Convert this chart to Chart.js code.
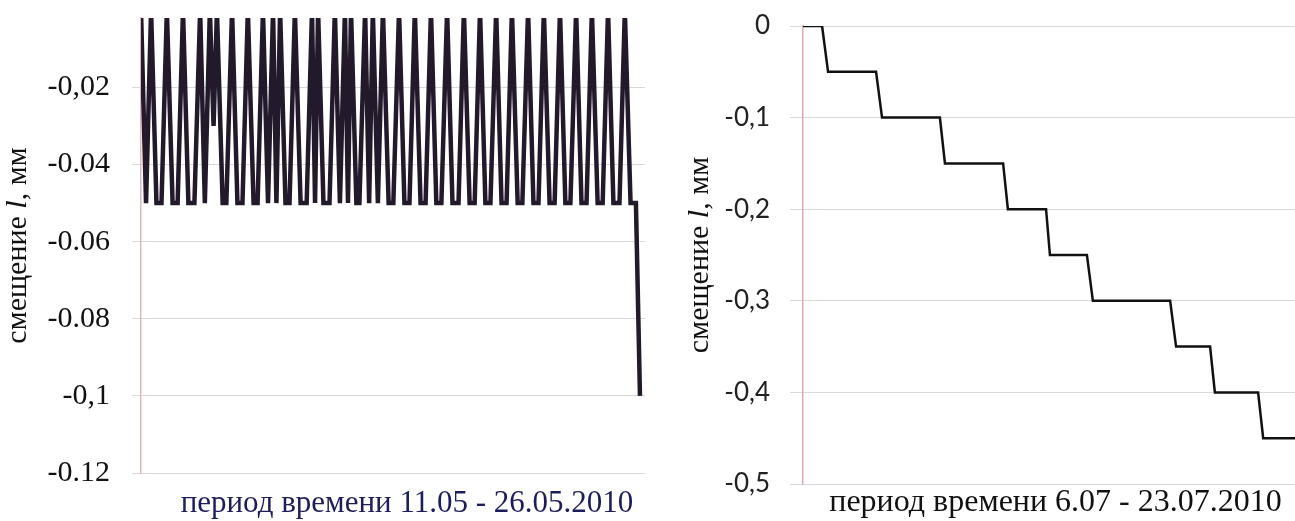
<!DOCTYPE html>
<html>
<head>
<meta charset="utf-8">
<script src="https://cdn.jsdelivr.net/npm/chart.js@4.4.0/dist/chart.umd.min.js"></script>
<style>
html, body { margin: 0; padding: 0; background: #fff; width: 1295px; height: 521px; overflow: hidden; position: relative; }
#left { position: absolute; left: 0; top: 0; }
#right { position: absolute; left: 660px; top: 0; }
</style>
</head>
<body>
<canvas id="left" width="660" height="521"></canvas>
<canvas id="right" width="670" height="521"></canvas>
<script>
// left chart: 11.05 - 26.05.2010, days from start, shift in mm
var leftDays = [
  0.00, 0.15, 0.30, 0.46, 0.61, 0.77, 0.94, 1.09, 1.25, 1.41, 1.59, 1.76,
  1.90, 2.05, 2.16, 2.26, 2.43, 2.54, 2.71, 2.87, 3.02, 3.18, 3.35, 3.47,
  3.63, 3.78, 3.93, 4.03, 4.14, 4.30, 4.42, 4.58, 4.75, 4.93, 5.09, 5.18,
  5.27, 5.43, 5.61, 5.77, 5.92, 6.07, 6.16, 6.25, 6.41, 6.50, 6.67, 6.79,
  6.90, 7.05, 7.20, 7.37, 7.51, 7.68, 7.84, 7.99, 8.15, 8.32, 8.47, 8.63,
  8.79, 8.94, 9.11, 9.27, 9.45, 9.61, 9.78, 9.93, 10.09, 10.25, 10.40, 10.57,
  10.73, 10.88, 11.04, 11.21, 11.35, 11.52, 11.68, 11.83, 11.99, 12.16, 12.31, 12.47,
  12.63, 12.78, 12.95, 13.11, 13.26, 13.42, 13.59, 13.74, 13.90, 14.06, 14.24, 14.40,
  14.57, 14.73, 14.85
];
var leftShift = [
  0, -0.05, 0, -0.05, -0.05, 0, -0.05, -0.05, 0, -0.05, -0.05, 0,
  -0.05, 0, -0.03, 0, -0.05, -0.05, 0, -0.05, -0.05, 0, -0.05, -0.05,
  0, -0.05, 0, -0.05, 0, -0.05, -0.05, 0, -0.05, -0.05, 0, -0.05,
  0, -0.05, -0.05, 0, -0.05, 0, -0.05, 0, -0.05, -0.05, 0, -0.05,
  0, -0.05, 0, -0.05, -0.05, 0, -0.05, -0.05, 0, -0.05, -0.05, 0,
  -0.05, -0.05, 0, -0.05, -0.05, 0, -0.05, -0.05, 0, -0.05, -0.05, 0,
  -0.05, -0.05, 0, -0.05, -0.05, 0, -0.05, -0.05, 0, -0.05, -0.05, 0,
  -0.05, -0.05, 0, -0.05, -0.05, 0, -0.05, -0.05, 0, -0.05, -0.05, 0,
  -0.05, -0.05, -0.1
];
var leftTicks = [-0.12, -0.1, -0.08, -0.06, -0.04, -0.02];
var leftTickLabels = ['-0.12', '-0,1', '-0.08', '-0.06', '-0.04', '-0,02'];
var leftXTitle = 'период времени 11.05 - 26.05.2010';

// right chart: 6.07 - 23.07.2010
var rightDays = [0, 0.64, 0.84, 2.45, 2.65, 4.59, 4.76, 6.71, 6.87, 8.15, 8.28, 9.52, 9.72, 12.31, 12.51, 13.65, 13.81, 15.26, 15.43, 17];
var rightShift = [0, 0, -0.05, -0.05, -0.1, -0.1, -0.15, -0.15, -0.2, -0.2, -0.25, -0.25, -0.3, -0.3, -0.35, -0.35, -0.4, -0.4, -0.45, -0.45];
var rightTicks = [-0.5, -0.4, -0.3, -0.2, -0.1, 0];
var rightTickLabels = ['-0,5', '-0,4', '-0,3', '-0,2', '-0,1', '0'];
var rightXTitle = 'период времени 6.07 - 23.07.2010';

var yTitleParts = [
  { text: 'смещение ', italic: false },
  { text: 'l', italic: true },
  { text: ', мм', italic: false }
];

// axis titles drawn by hand so the "l" can be italic
var axisTitles = {
  id: 'axisTitles',
  afterDraw: function(chart, args, opts) {
    var ctx = chart.ctx, a = chart.chartArea;
    ctx.save();
    ctx.fillStyle = opts.yColor;
    ctx.textBaseline = 'alphabetic';
    ctx.textAlign = 'left';
    var fonts = yTitleParts.map(function(p) {
      return (p.italic ? 'italic ' : '') + opts.ySize + 'px "Liberation Serif"';
    });
    var widths = yTitleParts.map(function(p, i) {
      ctx.font = fonts[i];
      return ctx.measureText(p.text).width;
    });
    var total = widths.reduce(function(s, w) { return s + w; }, 0);
    ctx.translate(opts.yBaseX, (a.top + a.bottom) / 2 + opts.yShift);
    ctx.rotate(-Math.PI / 2);
    var x = -total / 2;
    yTitleParts.forEach(function(p, i) {
      ctx.font = fonts[i];
      ctx.fillText(p.text, x, 0);
      x += widths[i];
    });
    ctx.restore();

    ctx.save();
    ctx.font = opts.xSize + 'px "Liberation Serif"';
    ctx.fillStyle = opts.xColor;
    ctx.textAlign = 'center';
    ctx.textBaseline = 'middle';
    ctx.fillText(opts.xText, (a.left + a.right) / 2 + opts.xShift, opts.xMid);
    ctx.restore();
  }
};

function points(xs, ys) {
  return xs.map(function(x, i) { return { x: x, y: ys[i] }; });
}

// keep the plot edges where the layout padding puts them
function fitY(width) {
  return function(s) {
    s.width = width;
    s.paddingTop = 0;
    s.paddingBottom = 0;
  };
}

new Chart(document.getElementById('left'), {
  type: 'line',
  data: {
    datasets: [{
      data: points(leftDays, leftShift),
      borderColor: '#22192b',
      borderWidth: 4.5,
      pointRadius: 0,
      tension: 0,
      fill: false
    }]
  },
  options: {
    responsive: false,
    animation: false,
    devicePixelRatio: 1,
    layout: { padding: { top: 18, right: 15, bottom: 48, left: 0 } },
    plugins: {
      legend: { display: false },
      tooltip: { enabled: false },
      axisTitles: {
        yColor: '#111', ySize: 30, yBaseX: 26, yShift: 0,
        xText: leftXTitle, xColor: '#1d1d5c', xSize: 31, xMid: 504, xShift: 14
      }
    },
    scales: {
      x: { type: 'linear', min: 0, max: 15, display: false },
      y: {
        min: -0.12,
        max: -0.002,
        afterFit: fitY(141),
        afterBuildTicks: function(s) { s.ticks = leftTicks.map(function(v) { return { value: v }; }); },
        ticks: {
          callback: function(v, i) { return leftTickLabels[i]; },
          font: { family: '"Liberation Serif"', size: 30 },
          color: '#111',
          padding: 22
        },
        grid: { color: '#d9d9d9', lineWidth: 1, tickLength: 9 },
        border: { color: '#e3b6ba', width: 1.5 }
      }
    }
  },
  plugins: [axisTitles]
});

new Chart(document.getElementById('right'), {
  type: 'line',
  data: {
    datasets: [{
      data: points(rightDays, rightShift),
      borderColor: '#111111',
      borderWidth: 2.5,
      pointRadius: 0,
      tension: 0,
      fill: false
    }]
  },
  options: {
    responsive: false,
    animation: false,
    devicePixelRatio: 1,
    layout: { padding: { top: 26, right: 20, bottom: 37, left: 0 } },
    plugins: {
      legend: { display: false },
      tooltip: { enabled: false },
      axisTitles: {
        yColor: '#111', ySize: 30, yBaseX: 48, yShift: 0,
        xText: rightXTitle, xColor: '#111', xSize: 32, xMid: 503, xShift: -1
      }
    },
    scales: {
      x: { type: 'linear', min: 0, max: 17, display: false },
      y: {
        min: -0.5,
        max: 0,
        afterFit: fitY(143),
        afterBuildTicks: function(s) { s.ticks = rightTicks.map(function(v) { return { value: v }; }); },
        ticks: {
          callback: function(v, i) { return rightTickLabels[i]; },
          font: { family: 'Lato', size: 26 },
          color: '#222',
          padding: 20
        },
        grid: { color: '#d9d9d9', lineWidth: 1, tickLength: 13 },
        border: { color: '#e0aab0', width: 1.5 }
      }
    }
  },
  plugins: [axisTitles]
});
</script>
</body>
</html>
